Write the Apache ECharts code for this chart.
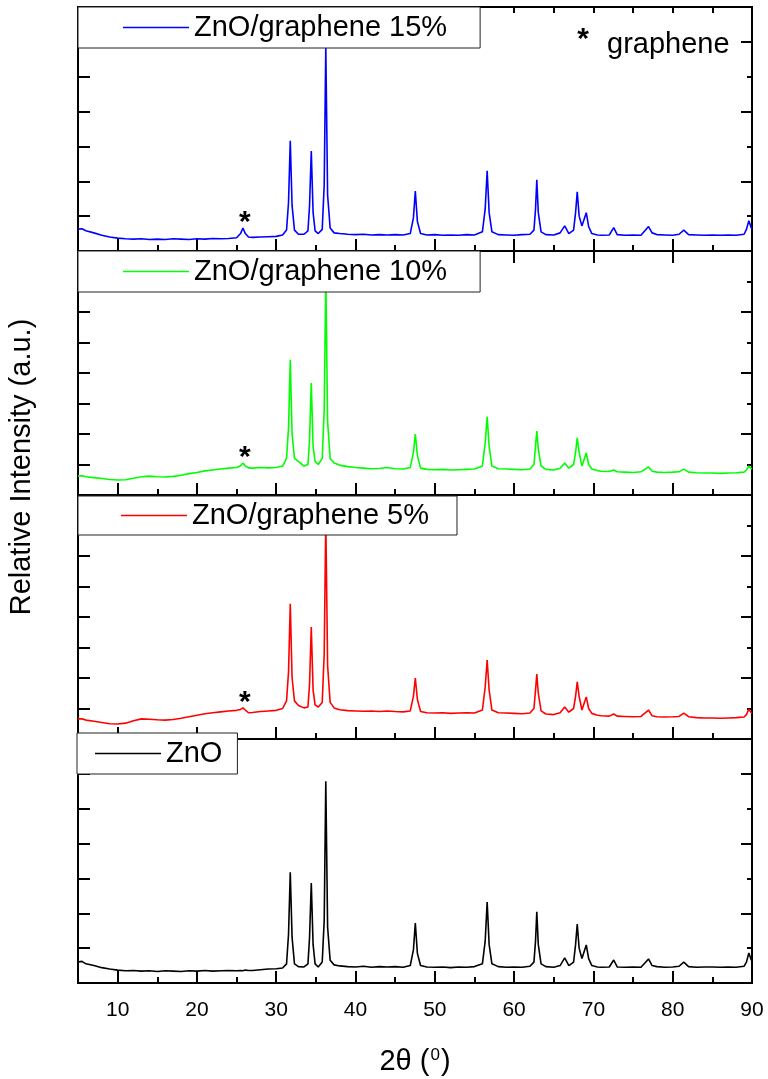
<!DOCTYPE html>
<html>
<head>
<meta charset="utf-8">
<script src="https://cdn.jsdelivr.net/npm/echarts@6.0.0/dist/echarts.min.js"></script>
<style>
  html, body { margin: 0; padding: 0; background: #fff; }
  #main { width: 768px; height: 1079px; }
</style>
</head>
<body>
<div id="main"></div>
<script>
// 2theta positions (deg), shared by all four patterns
var twoTheta = [
  5, 5.5, 6,
  7, 8, 9, 10, 11, 12, 13, 14, 15, 16, 17, 18, 19, 20, 21, 22, 23, 24,
  25, 25.5, 25.8, 26.1, 26.5,
  27, 28, 29, 30,
  30.8, 31.3, 31.55, 31.77, 32.0, 32.3, 32.8, 33.5,
  34.0, 34.2, 34.42, 34.65, 34.9, 35.3, 35.8,
  36.05, 36.25, 36.48, 36.8, 37.3,
  38, 39, 40, 41, 42, 43, 44, 45, 46,
  46.9, 47.3, 47.54, 47.8, 48.2,
  49, 50, 51, 52, 53, 54, 55,
  56.0, 56.35, 56.6, 56.85, 57.2,
  58, 59, 60, 61, 62,
  62.5, 62.7, 62.86, 63.05, 63.4,
  64, 65,
  65.8, 66.38, 66.9,
  67.5, 67.75, 67.96, 68.2, 68.55,
  69.1, 69.4, 69.8,
  70.5, 71, 72,
  72.56, 73,
  74, 75, 76,
  76.95, 77.4,
  78, 79, 80,
  80.8, 81.4,
  82, 83, 84, 85, 86, 87, 88, 89,
  89.3, 89.6, 89.85, 90
];

// relative intensities (panel units)
var g15Intensity = [
  0.63, 0.64, 0.58,
  0.52, 0.45, 0.40, 0.37, 0.35, 0.34, 0.35, 0.33, 0.34, 0.33, 0.35, 0.34, 0.33, 0.35, 0.34, 0.36, 0.35, 0.36,
  0.38, 0.50, 0.66, 0.50, 0.40,
  0.39, 0.40, 0.41, 0.42,
  0.46, 0.60, 1.40, 3.16, 1.30, 0.60, 0.48, 0.48,
  0.58, 1.30, 2.87, 1.10, 0.58, 0.50, 0.62,
  1.90, 5.85, 1.60, 0.66, 0.52,
  0.50, 0.48, 0.47, 0.48, 0.46, 0.47, 0.46, 0.47, 0.46,
  0.50, 0.95, 1.72, 0.85, 0.50,
  0.46, 0.47, 0.45, 0.46, 0.45, 0.47, 0.46,
  0.55, 1.20, 2.30, 1.10, 0.55,
  0.47, 0.46, 0.45, 0.47, 0.48,
  0.60, 1.20, 2.04, 1.10, 0.55,
  0.47, 0.46,
  0.52, 0.72, 0.50,
  0.60, 1.10, 1.70, 1.00, 0.72,
  1.10, 0.70, 0.50,
  0.46, 0.45, 0.46,
  0.67, 0.47,
  0.45, 0.46, 0.45,
  0.70, 0.52,
  0.47, 0.46, 0.45,
  0.48, 0.60,
  0.47, 0.46, 0.45, 0.46, 0.45, 0.46, 0.45, 0.48,
  0.62, 0.87, 0.70, 0.62
];

var g10Intensity = [
  0.62, 0.63, 0.60,
  0.57, 0.54, 0.51, 0.49, 0.50, 0.55, 0.60, 0.62, 0.60, 0.59, 0.61, 0.65, 0.70, 0.74, 0.79, 0.82, 0.85, 0.88,
  0.90, 0.96, 1.05, 0.95, 0.89,
  0.88, 0.90, 0.89, 0.90,
  0.95, 1.20, 2.20, 4.43, 2.00, 1.20, 1.10, 0.95,
  1.00, 1.80, 3.67, 1.60, 1.10, 1.00, 1.20,
  2.80, 7.20, 2.40, 1.20, 1.05,
  0.98, 0.93, 0.90, 0.88, 0.86, 0.87, 0.90, 0.86, 0.85,
  0.90, 1.40, 2.00, 1.30, 0.88,
  0.84, 0.83, 0.84, 0.82, 0.83, 0.84, 0.85,
  0.95, 1.70, 2.56, 1.60, 0.95,
  0.86, 0.85, 0.84, 0.83, 0.85,
  1.00, 1.60, 2.10, 1.50, 0.95,
  0.84, 0.82,
  0.88, 1.05, 0.88,
  1.00, 1.40, 1.87, 1.40, 0.95,
  1.38, 1.00, 0.85,
  0.80, 0.78, 0.77,
  0.82, 0.76,
  0.75, 0.74, 0.76,
  0.92, 0.78,
  0.75, 0.74, 0.75,
  0.76, 0.85,
  0.75, 0.73, 0.72, 0.72, 0.71, 0.72, 0.73, 0.75,
  0.82, 0.95, 0.88, 0.85
];

var g5Intensity = [
  0.66, 0.66, 0.62,
  0.58, 0.54, 0.50, 0.49, 0.52, 0.60, 0.66, 0.65, 0.63, 0.62, 0.64, 0.68, 0.73, 0.78, 0.83, 0.86, 0.89, 0.92,
  0.94, 0.97, 1.02, 0.95, 0.86,
  0.87, 0.90, 0.92, 0.94,
  1.00, 1.25, 2.20, 4.43, 2.00, 1.25, 1.10, 1.02,
  1.05, 1.80, 3.67, 1.60, 1.12, 1.05, 1.20,
  2.80, 7.20, 2.40, 1.20, 1.02,
  0.96, 0.93, 0.92, 0.91, 0.92, 0.90, 0.92, 0.90, 0.89,
  0.92, 1.40, 2.00, 1.30, 0.90,
  0.86, 0.85, 0.86, 0.84, 0.85, 0.86, 0.85,
  0.95, 1.70, 2.59, 1.60, 0.95,
  0.86, 0.85, 0.84, 0.83, 0.85,
  1.00, 1.60, 2.13, 1.50, 0.92,
  0.82, 0.80,
  0.86, 1.05, 0.88,
  1.00, 1.40, 1.87, 1.40, 0.95,
  1.38, 1.00, 0.84,
  0.78, 0.76, 0.75,
  0.82, 0.75,
  0.74, 0.73, 0.74,
  0.95, 0.76,
  0.73, 0.72, 0.73,
  0.74, 0.85,
  0.73, 0.70, 0.69, 0.69, 0.68, 0.69, 0.70, 0.72,
  0.80, 0.98, 0.88, 0.85
];

var znoIntensity = [
  0.60, 0.62, 0.55,
  0.50, 0.44, 0.40, 0.37, 0.35, 0.36, 0.34, 0.35, 0.33, 0.35, 0.34, 0.33, 0.35, 0.34, 0.36, 0.34, 0.35, 0.36,
  0.35, 0.36, 0.35, 0.37, 0.36,
  0.36, 0.38, 0.40, 0.41,
  0.43, 0.55, 1.40, 3.18, 1.30, 0.55, 0.47, 0.46,
  0.55, 1.30, 2.87, 1.10, 0.55, 0.46, 0.60,
  1.80, 5.79, 1.60, 0.65, 0.52,
  0.49, 0.47, 0.46, 0.48, 0.45, 0.47, 0.46, 0.47, 0.45,
  0.50, 0.95, 1.72, 0.85, 0.50,
  0.46, 0.45, 0.46, 0.44, 0.46, 0.45, 0.47,
  0.55, 1.20, 2.32, 1.10, 0.55,
  0.47, 0.45, 0.46, 0.45, 0.48,
  0.60, 1.20, 2.04, 1.10, 0.55,
  0.47, 0.45,
  0.50, 0.72, 0.50,
  0.60, 1.10, 1.69, 1.00, 0.70,
  1.09, 0.70, 0.50,
  0.46, 0.45, 0.46,
  0.66, 0.46,
  0.45, 0.46, 0.45,
  0.69, 0.50,
  0.47, 0.45, 0.46,
  0.48, 0.60,
  0.47, 0.45, 0.46, 0.46, 0.45, 0.46, 0.45, 0.48,
  0.60, 0.86, 0.70, 0.62
];

var xTicks = [10, 20, 30, 40, 50, 60, 70, 80, 90];
var grapheneMark = 25.8;

var FONT = '"Liberation Sans", Arial, sans-serif';

var panels = [
  { name: 'ZnO/graphene 15%', color: '#0000ff', values: g15Intensity, yMax: 7, top: 7, star: true,
    legend: { left: 78, top: 7, padding: [6, 33, 6, 45] } },
  { name: 'ZnO/graphene 10%', color: '#00ff00', values: g10Intensity, yMax: 8, top: 251, star: true,
    legend: { left: 78, top: 251, padding: [6, 33, 6, 45] } },
  { name: 'ZnO/graphene 5%', color: '#ff0000', values: g5Intensity, yMax: 8, top: 495, star: true,
    legend: { left: 78, top: 496, padding: [5, 28, 5, 43] } },
  { name: 'ZnO', color: '#000000', values: znoIntensity, yMax: 7, top: 739, star: false,
    legend: { left: 77, top: 733, padding: [6, 15, 6, 18] } }
];

var grids = [], xAxes = [], yAxes = [], series = [], legends = [];

function tickAxis(extra) {
  var ax = {
    type: 'value', min: 5, max: 90,
    axisLine: { show: false },
    splitLine: { show: false },
    axisLabel: { show: false },
    axisTick: { show: true, inside: true, length: 6, lineStyle: { color: '#000', width: 2 } }
  };
  for (var k in extra) ax[k] = extra[k];
  return ax;
}

panels.forEach(function (p, i) {
  grids.push({ left: 78, right: 16, top: p.top, height: 244, show: true,
               borderColor: '#000', borderWidth: 2, backgroundColor: 'transparent' });

  var last = (i === panels.length - 1);
  var mainX = xAxes.length;
  // bottom major ticks (10, 20, ...)
  xAxes.push(tickAxis({
    gridIndex: i, position: 'bottom',
    axisTick: { show: true, inside: true, length: 12, customValues: xTicks, lineStyle: { color: '#000', width: 2 } },
    axisLabel: { show: last, customValues: xTicks, fontSize: 21, color: '#000', fontFamily: FONT, margin: 17 },
    name: last ? '2θ ({sup|0})' : '',
    nameLocation: 'middle', nameGap: 64,
    nameTextStyle: { fontSize: 29, color: '#000', fontFamily: FONT,
                     rich: { sup: { fontSize: 17, color: '#000', fontFamily: FONT, verticalAlign: 'top', padding: [0, 1, 12, 1] } } }
  }));
  // bottom minor ticks (every 5)
  xAxes.push(tickAxis({ gridIndex: i, position: 'bottom', interval: 5 }));
  if (i === 0) {
    xAxes.push(tickAxis({
      gridIndex: i, position: 'top',
      axisTick: { show: true, inside: true, length: 12, customValues: xTicks, lineStyle: { color: '#000', width: 2 } }
    }));
    xAxes.push(tickAxis({ gridIndex: i, position: 'top', interval: 5 }));
  }

  var mainY = yAxes.length;
  var yBase = { type: 'value', min: 0, max: p.yMax, gridIndex: i,
                axisLine: { show: false }, splitLine: { show: false }, axisLabel: { show: false } };
  yAxes.push(Object.assign({}, yBase, { position: 'left', interval: 1,
    axisTick: { show: true, inside: true, length: 12, lineStyle: { color: '#000', width: 2 } } }));
  yAxes.push(Object.assign({}, yBase, { position: 'right', interval: 1,
    axisTick: { show: true, inside: true, length: 5, lineStyle: { color: '#000', width: 2 } } }));
  yAxes.push(Object.assign({}, yBase, { position: 'right', interval: 2,
    axisTick: { show: true, inside: true, length: 11, lineStyle: { color: '#000', width: 2 } } }));

  var s = {
    name: p.name, type: 'line', xAxisIndex: mainX, yAxisIndex: mainY,
    showSymbol: false, symbol: 'none', smooth: false,
    lineStyle: { color: p.color, width: 1.6 },
    itemStyle: { color: p.color },
    data: twoTheta.map(function (t, j) { return [t, p.values[j]]; })
  };
  if (p.star) {
    var peak = p.values[twoTheta.indexOf(grapheneMark)];
    s.markPoint = {
      symbol: 'rect', symbolSize: 1, itemStyle: { color: 'transparent' },
      label: { show: true, position: 'top', distance: 0, formatter: '*',
               fontSize: 30, fontWeight: 'bold', color: '#000', fontFamily: FONT, offset: [2, 10] },
      data: [{ coord: [grapheneMark, peak] }]
    };
  }
  series.push(s);

  legends.push({
    data: [{ name: p.name, icon: 'rect' }], left: p.legend.left, top: p.legend.top, orient: 'horizontal',
    padding: p.legend.padding, itemWidth: 66, itemHeight: 1.5, selectedMode: false,
    backgroundColor: '#fff', borderColor: '#222', borderWidth: 1, borderRadius: 0,
    textStyle: { fontSize: 29, color: '#000', fontFamily: FONT }
  });
});

var chart = echarts.init(document.getElementById('main'));
chart.setOption({
  animation: false,
  backgroundColor: '#fff',
  grid: grids,
  xAxis: xAxes,
  yAxis: yAxes,
  legend: legends,
  series: series,
  graphic: [
    { type: 'text', x: 22, y: 467, rotation: Math.PI / 2,
      style: { text: 'Relative Intensity (a.u.)', fontSize: 29, fontFamily: FONT, fill: '#000',
               align: 'center', verticalAlign: 'middle' } },
    { type: 'text', x: 583, y: 40,
      style: { text: '*', fontSize: 30, fontWeight: 'bold', fontFamily: FONT, fill: '#000', align: 'center', verticalAlign: 'middle' } },
    { type: 'text', x: 607, y: 45,
      style: { text: 'graphene', fontSize: 29, fontFamily: FONT, fill: '#000', align: 'left', verticalAlign: 'middle' } }
  ]
});
window.addEventListener('resize', function () { chart.resize(); });
</script>
</body>
</html>
